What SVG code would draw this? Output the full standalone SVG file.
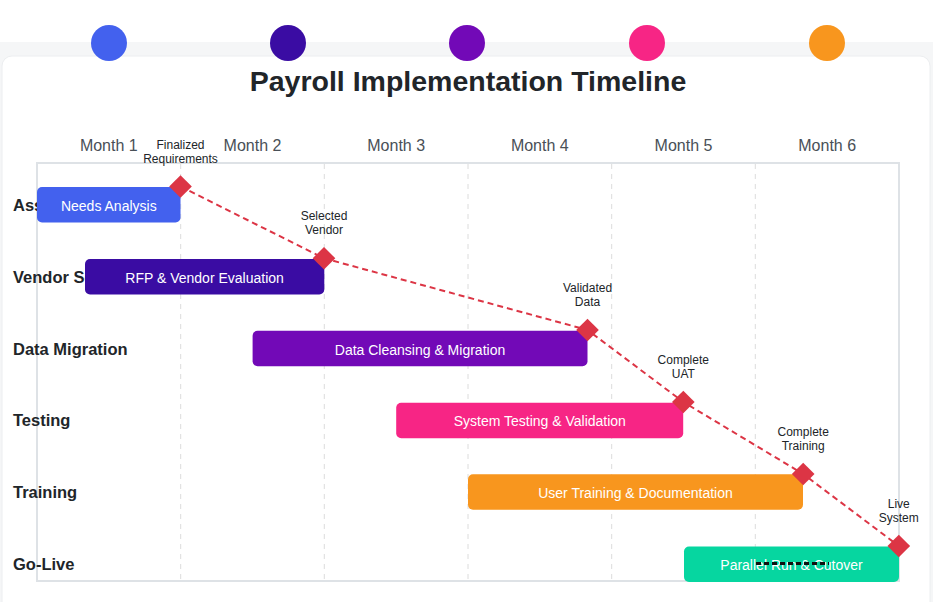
<svg xmlns="http://www.w3.org/2000/svg" width="933" height="602" viewBox="0 0 933 602">
<style>
.title{font-family:"Liberation Sans",Arial,sans-serif;font-size:28.5px;font-weight:bold;fill:#212529;text-anchor:middle}
.month{font-family:"Liberation Sans",Arial,sans-serif;font-size:16px;fill:#495057;text-anchor:middle}
.row{font-family:"Liberation Sans",Arial,sans-serif;font-size:16.5px;font-weight:bold;fill:#212529}
.bar{rx:5;ry:5}
.bartxt{font-family:"Liberation Sans",Arial,sans-serif;font-size:14px;fill:#ffffff;text-anchor:middle}
.ms{fill:#dc3545}
.mstxt{font-family:"Liberation Sans",Arial,sans-serif;font-size:12px;fill:#212529;text-anchor:middle}
.grid{stroke:#dcdcdc;stroke-width:1;stroke-dasharray:5,5}
</style>
<rect x="0" y="0" width="933" height="602" fill="#ffffff"/>
<rect x="0" y="42" width="933" height="560" fill="#f5f6f7"/>
<rect x="2" y="56" width="928" height="560" rx="10" fill="#ffffff" stroke="#eceef0" stroke-width="1"/>
<g id="dots">
<circle cx="109" cy="43" r="18" fill="#4361ee"/>
<circle cx="288" cy="43" r="18" fill="#3a0ca3"/>
<circle cx="467" cy="43" r="18" fill="#7209b7"/>
<circle cx="647" cy="43" r="18" fill="#f72585"/>
<circle cx="827" cy="43" r="18" fill="#f8961e"/>
</g>
<text class="title" x="468" y="91">Payroll Implementation Timeline</text>
<g id="months">
<text class="month" x="108.8" y="151">Month 1</text>
<text class="month" x="252.5" y="151">Month 2</text>
<text class="month" x="396.2" y="151">Month 3</text>
<text class="month" x="539.8" y="151">Month 4</text>
<text class="month" x="683.5" y="151">Month 5</text>
<text class="month" x="827.2" y="151">Month 6</text>
</g>
<g id="grid">
<line class="grid" x1="180.7" y1="164" x2="180.7" y2="580"/>
<line class="grid" x1="324.3" y1="164" x2="324.3" y2="580"/>
<line class="grid" x1="468" y1="164" x2="468" y2="580"/>
<line class="grid" x1="611.7" y1="164" x2="611.7" y2="580"/>
<line class="grid" x1="755.3" y1="164" x2="755.3" y2="580"/>
</g>
<rect id="chart-frame" x="37" y="163" width="862" height="418" fill="none" stroke="#dee2e6" stroke-width="2"/>
<g id="row-labels">
<text class="row" x="13" y="211">Assessment</text>
<text class="row" x="13" y="283">Vendor Selection</text>
<text class="row" x="13" y="355">Data Migration</text>
<text class="row" x="13" y="426">Testing</text>
<text class="row" x="13" y="498">Training</text>
<text class="row" x="13" y="570">Go-Live</text>
</g>
<g id="task-needs-analysis">
<rect class="bar" x="37" y="187" width="143.5" height="35.5" fill="#4361ee"/>
<text class="bartxt" x="108.8" y="211">Needs Analysis</text>
</g>
<g id="task-rfp">
<rect class="bar" x="85" y="259" width="239.3" height="35.5" fill="#3a0ca3"/>
<text class="bartxt" x="204.6" y="283">RFP &amp; Vendor Evaluation</text>
</g>
<g id="task-data-cleansing">
<rect class="bar" x="252.6" y="330.7" width="334.9" height="35.5" fill="#7209b7"/>
<text class="bartxt" x="420" y="355">Data Cleansing &amp; Migration</text>
</g>
<g id="task-testing">
<rect class="bar" x="396.2" y="402.7" width="287" height="35.5" fill="#f72585"/>
<text class="bartxt" x="539.8" y="426">System Testing &amp; Validation</text>
</g>
<g id="task-training">
<rect class="bar" x="468" y="474.3" width="335" height="35.5" fill="#f8961e"/>
<text class="bartxt" x="635.5" y="498">User Training &amp; Documentation</text>
</g>
<g id="task-parallel">
<rect class="bar" x="684" y="546.5" width="215" height="35.5" fill="#06d6a0"/>
<text class="bartxt" x="791.5" y="570">Parallel Run &amp; Cutover</text>
</g>
<g id="connectors">
<polyline points="180.5,186.5 324,258.3 587.5,330 683.3,402 803.2,474 898.8,546" fill="none" stroke="#dc3545" stroke-width="2" stroke-dasharray="6,4"/>
<line x1="756" y1="563.5" x2="829" y2="563.5" stroke="#111111" stroke-width="3" stroke-dasharray="5,3"/>
</g>
<g id="ms-finalized">
<rect class="ms" x="-8" y="-8" width="16" height="16" transform="translate(180.5 186.5) rotate(45)"/>
<text class="mstxt" x="180.5" y="149">Finalized</text>
<text class="mstxt" x="180.5" y="163">Requirements</text>
</g>
<g id="ms-selected">
<rect class="ms" x="-8" y="-8" width="16" height="16" transform="translate(324 258.3) rotate(45)"/>
<text class="mstxt" x="324" y="220">Selected</text>
<text class="mstxt" x="324" y="234">Vendor</text>
</g>
<g id="ms-validated">
<rect class="ms" x="-8" y="-8" width="16" height="16" transform="translate(587.5 330) rotate(45)"/>
<text class="mstxt" x="587.5" y="292">Validated</text>
<text class="mstxt" x="587.5" y="306">Data</text>
</g>
<g id="ms-uat">
<rect class="ms" x="-8" y="-8" width="16" height="16" transform="translate(683.3 402) rotate(45)"/>
<text class="mstxt" x="683.3" y="364">Complete</text>
<text class="mstxt" x="683.3" y="378">UAT</text>
</g>
<g id="ms-training">
<rect class="ms" x="-8" y="-8" width="16" height="16" transform="translate(803.2 474) rotate(45)"/>
<text class="mstxt" x="803.2" y="436">Complete</text>
<text class="mstxt" x="803.2" y="450">Training</text>
</g>
<g id="ms-live">
<rect class="ms" x="-8" y="-8" width="16" height="16" transform="translate(898.8 546) rotate(45)"/>
<text class="mstxt" x="898.8" y="508">Live</text>
<text class="mstxt" x="898.8" y="522">System</text>
</g>
</svg>
